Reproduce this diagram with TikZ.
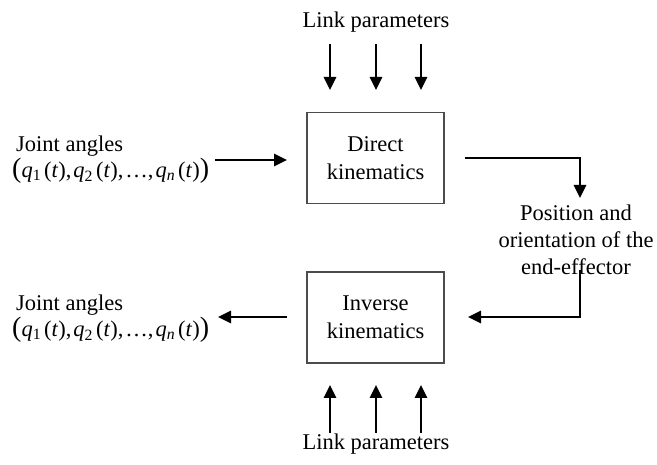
\documentclass[tikz,border=0pt]{standalone}
\usepackage{fontspec}
\setmainfont{Liberation Serif}
\usetikzlibrary{arrows.meta}
\newcommand{\qtuple}{{\fontsize{28}{28}\selectfont(}\textit{q}\textsubscript{1}\kern3pt(\textit{t}),\kern2pt\textit{q}\textsubscript{2}\kern3pt(\textit{t}),\kern2pt\ldots,\kern2pt\textit{q}\textsubscript{\textit{n}}\kern3pt(\textit{t}){\fontsize{28}{28}\selectfont)}}
\begin{document}
\begin{tikzpicture}[x=1pt,y=-1pt,
  every node/.style={font=\fontsize{22.5}{27}\selectfont, inner sep=0pt},
  blockbox/.style={draw=black!70, line width=1.3pt, minimum width=137pt, minimum height=91pt, align=center},
  flow/.style={line width=2.8pt, -{Triangle[length=13pt,width=12pt]}},
  lbl/.style={align=center}]
\useasboundingbox (0,0) rectangle (657,465);
% boxes
\node[blockbox] (dk) at (375.5,158) {Direct\\[1pt]kinematics};
\node[blockbox] (ik) at (375.5,317.5) {Inverse\\[1pt]kinematics};
% labels
\node[lbl] (lpt) at (376,22) {Link parameters};
\node[lbl] (lpb) at (376,444) {Link parameters};
\node[lbl] (pos) at (576,240) {Position and\\[0pt]orientation of the\\[0pt]end-effector};
\node[anchor=west] (ja1) at (16,146) {Joint angles};
\node[anchor=west] (q1) at (12,171) {\qtuple};
\node[anchor=west] (ja2) at (16,305) {Joint angles};
\node[anchor=west] (q2) at (12,330) {\qtuple};
% coordinates
\coordinate (t1s) at (330,44); \coordinate (t1e) at (330,90);
\coordinate (t2s) at (376,44); \coordinate (t2e) at (376,90);
\coordinate (t3s) at (421,44); \coordinate (t3e) at (421,90);
\coordinate (b1s) at (330,433); \coordinate (b1e) at (330,385);
\coordinate (b2s) at (376,433); \coordinate (b2e) at (376,385);
\coordinate (b3s) at (421,433); \coordinate (b3e) at (421,385);
\coordinate (inA) at (215,160); \coordinate (inB) at (287,160);
\coordinate (dkout) at (465,158); \coordinate (corn1) at (580,158); \coordinate (posin) at (580,198);
\coordinate (posout) at (580,270); \coordinate (corn2) at (580,317); \coordinate (ikin) at (468,317);
\coordinate (outA) at (287,317); \coordinate (outB) at (218,317);
% connectors
\draw[flow] (t1s) -- (t1e);
\draw[flow] (t2s) -- (t2e);
\draw[flow] (t3s) -- (t3e);
\draw[flow] (b1s) -- (b1e);
\draw[flow] (b2s) -- (b2e);
\draw[flow] (b3s) -- (b3e);
\draw[flow] (inA) -- (inB);
\draw[flow] (dkout) -- (corn1) -- (posin);
\draw[flow] (posout) -- (corn2) -- (ikin);
\draw[flow] (outA) -- (outB);
\end{tikzpicture}
\end{document}
